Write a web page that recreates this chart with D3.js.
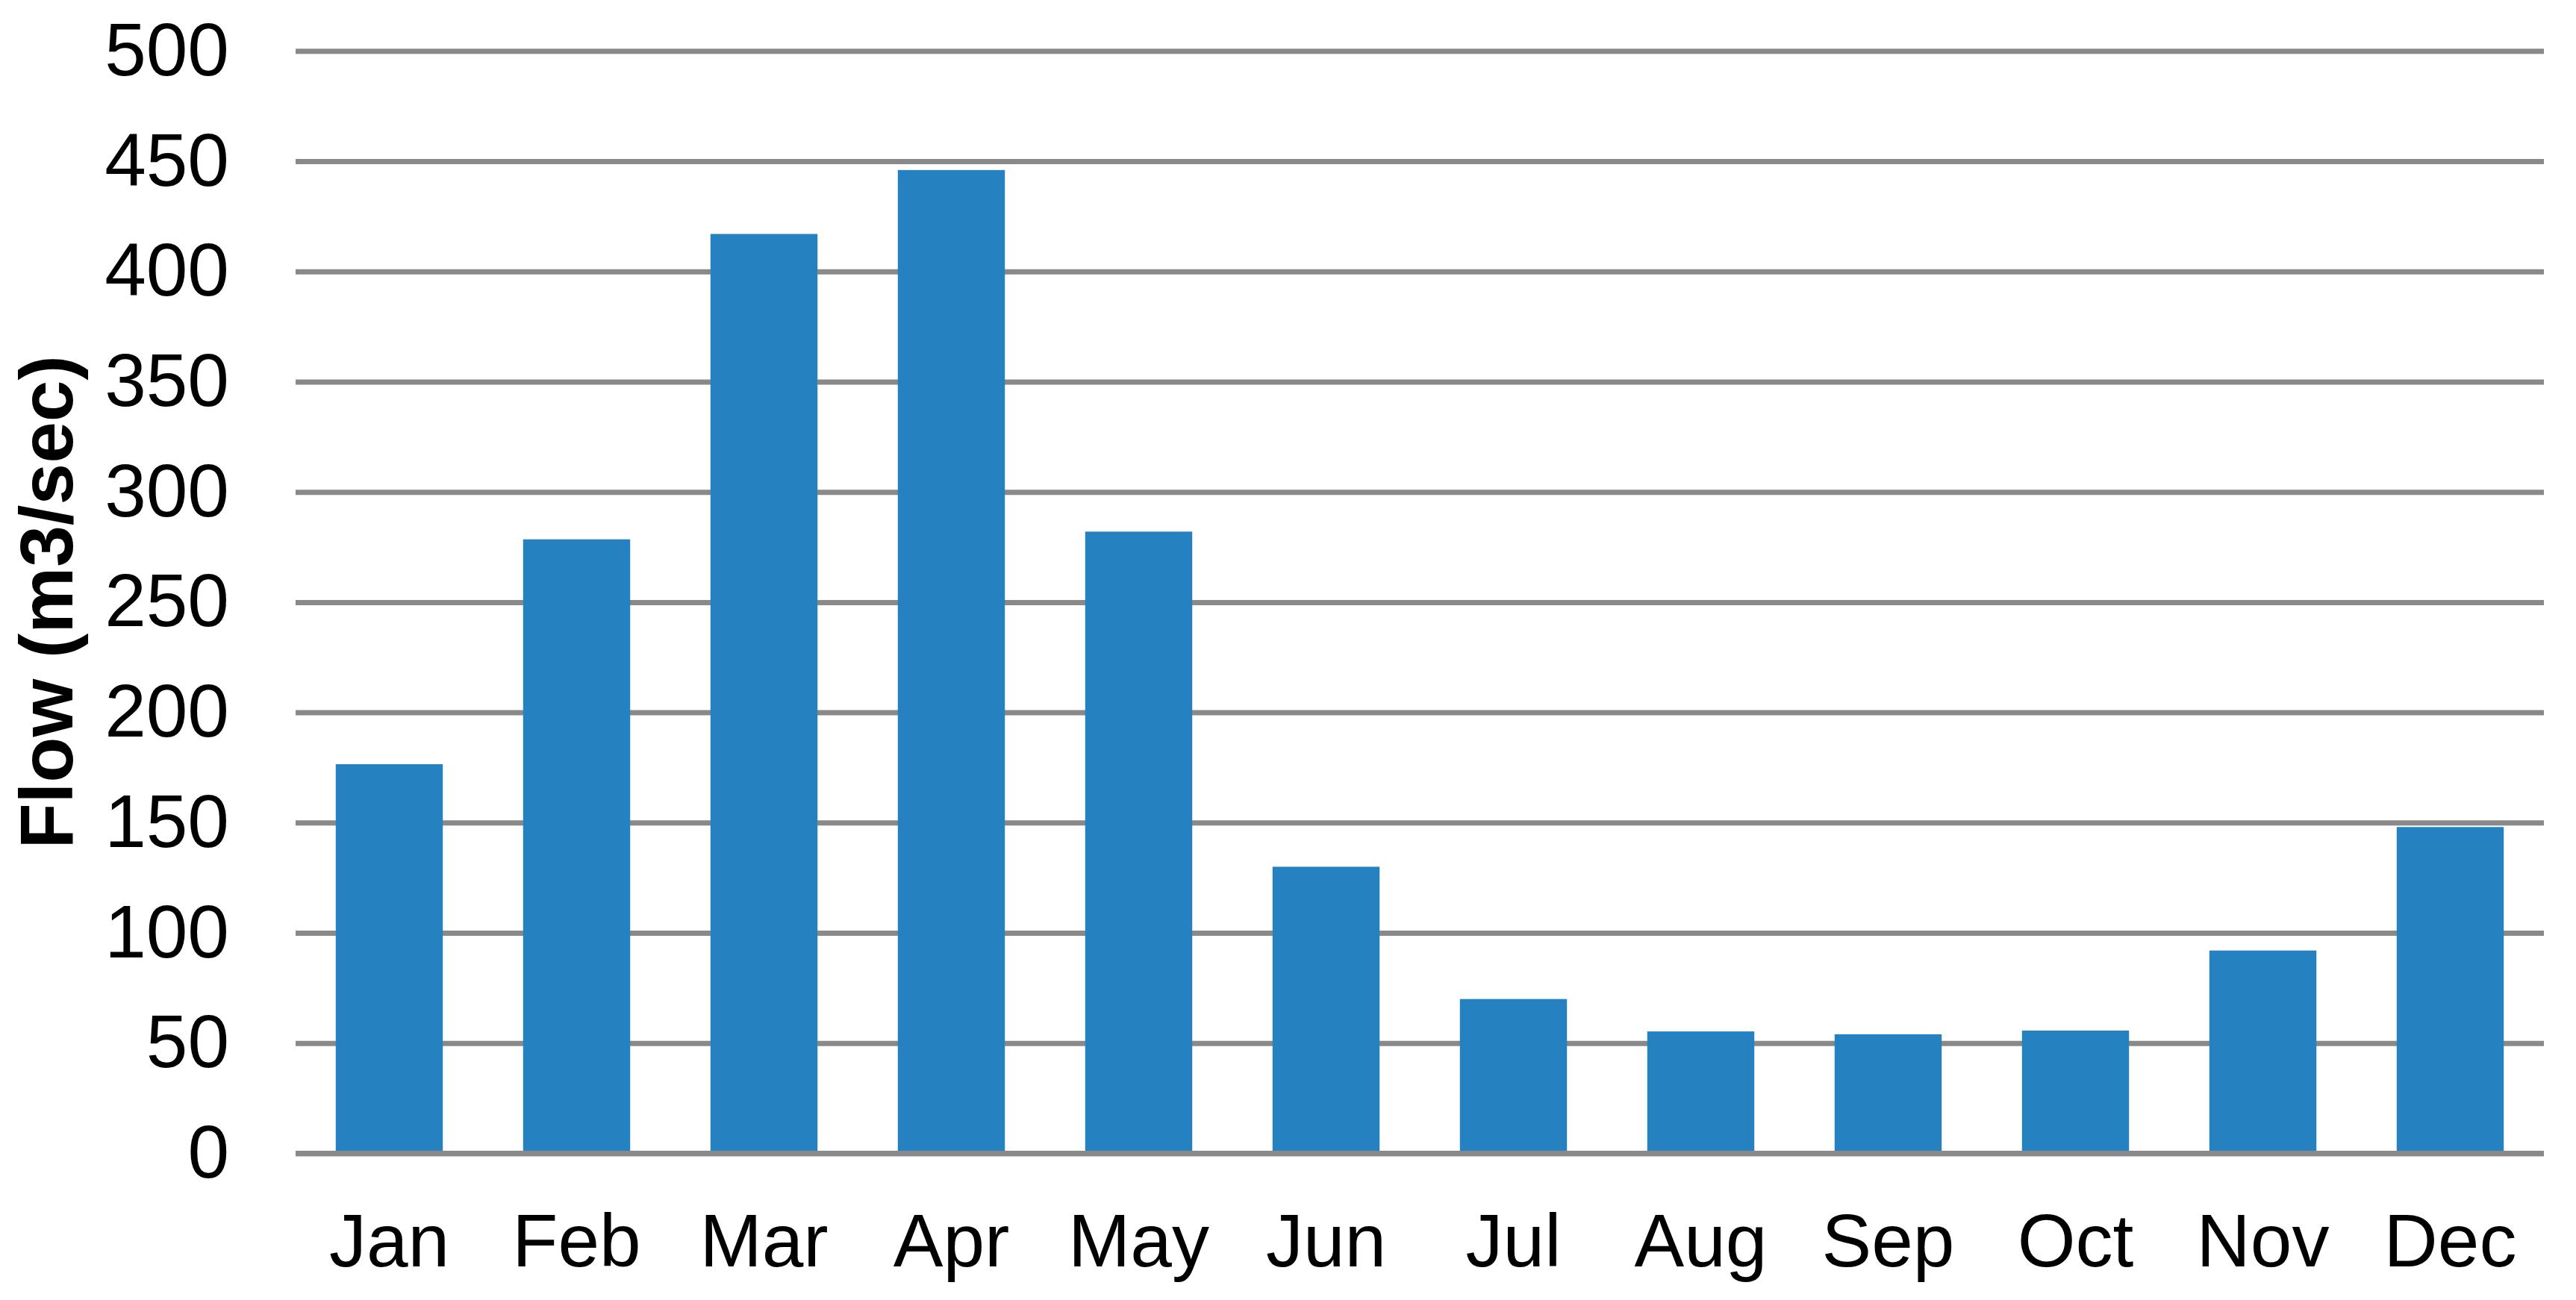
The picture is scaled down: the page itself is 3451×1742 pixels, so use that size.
<!DOCTYPE html>
<html>
<head>
<meta charset="utf-8">
<script src="https://cdn.jsdelivr.net/npm/d3@7"></script>
<style>
	body { margin: 0; background: white; }
</style>
</head>
<body>
<div id="chart"></div>
<script>
var months = ['Jan','Feb','Mar','Apr','May','Jun','Jul','Aug','Sep','Oct','Nov','Dec'];
var flow = [176.5, 278.5, 417, 446, 282, 130, 70, 55.3, 54, 55.7, 92, 148];
var yTicks = [0, 50, 100, 150, 200, 250, 300, 350, 400, 450, 500];
var yTitle = 'Flow (m3/sec)';

var W = 3451, H = 1742;
var margin = {top: 68.3, right: 43, bottom: 196.5, left: 396};

var height = H - margin.top - margin.bottom,
	width  = W - margin.left - margin.right;

var font = '"Liberation Sans", Arial, sans-serif';

var svg = d3.select('#chart').append('svg')
	.attr('width', W)
	.attr('height', H)
	.style('background', 'white');

var g = svg.append('g')
	.attr('transform', 'translate(' + margin.left + ',' + margin.top + ')');

var yScale = d3.scaleLinear()
	.domain([0, 500])
	.range([height, 0]);

// excel gap width 75%
var xScale = d3.scaleBand()
	.domain(months)
	.range([0, width])
	.paddingInner(0.75 / 1.75)
	.paddingOuter(0.375 / 1.75);

// gridlines + y labels
var yGuide = g.append('g')
	.call(d3.axisLeft(yScale).tickValues(yTicks).tickSize(-width).tickPadding(89));
yGuide.select('.domain').remove();
yGuide.selectAll('line')
	.attr('stroke', '#898989')
	.attr('stroke-width', 7);
yGuide.selectAll('text')
	.attr('font-family', font)
	.attr('font-size', 100)
	.attr('fill', '#000');

g.selectAll('rect.bar').data(flow)
	.enter().append('rect')
		.attr('class', 'bar')
		.attr('x', function(d, i) { return xScale(months[i]); })
		.attr('width', xScale.bandwidth())
		.attr('y', function(d) { return yScale(d); })
		.attr('height', function(d) { return yScale(0) - yScale(d); })
		.style('fill', '#2581c0');

// zero line sits over the bars
g.append('line')
	.attr('x1', 0)
	.attr('x2', width)
	.attr('y1', yScale(0))
	.attr('y2', yScale(0))
	.attr('stroke', '#898989')
	.attr('stroke-width', 7);

var xGuide = g.append('g')
	.attr('transform', 'translate(0,' + height + ')')
	.call(d3.axisBottom(xScale).tickSize(0).tickPadding(80.5));
xGuide.select('.domain').remove();
xGuide.selectAll('text')
	.attr('font-family', font)
	.attr('font-size', 100)
	.attr('fill', '#000');

svg.append('text')
	.attr('transform', 'translate(97,' + (margin.top + height / 2) + ') rotate(-90)')
	.attr('text-anchor', 'middle')
	.attr('font-family', font)
	.attr('font-weight', 'bold')
	.attr('font-size', 100)
	.text(yTitle);
</script>
</body>
</html>
